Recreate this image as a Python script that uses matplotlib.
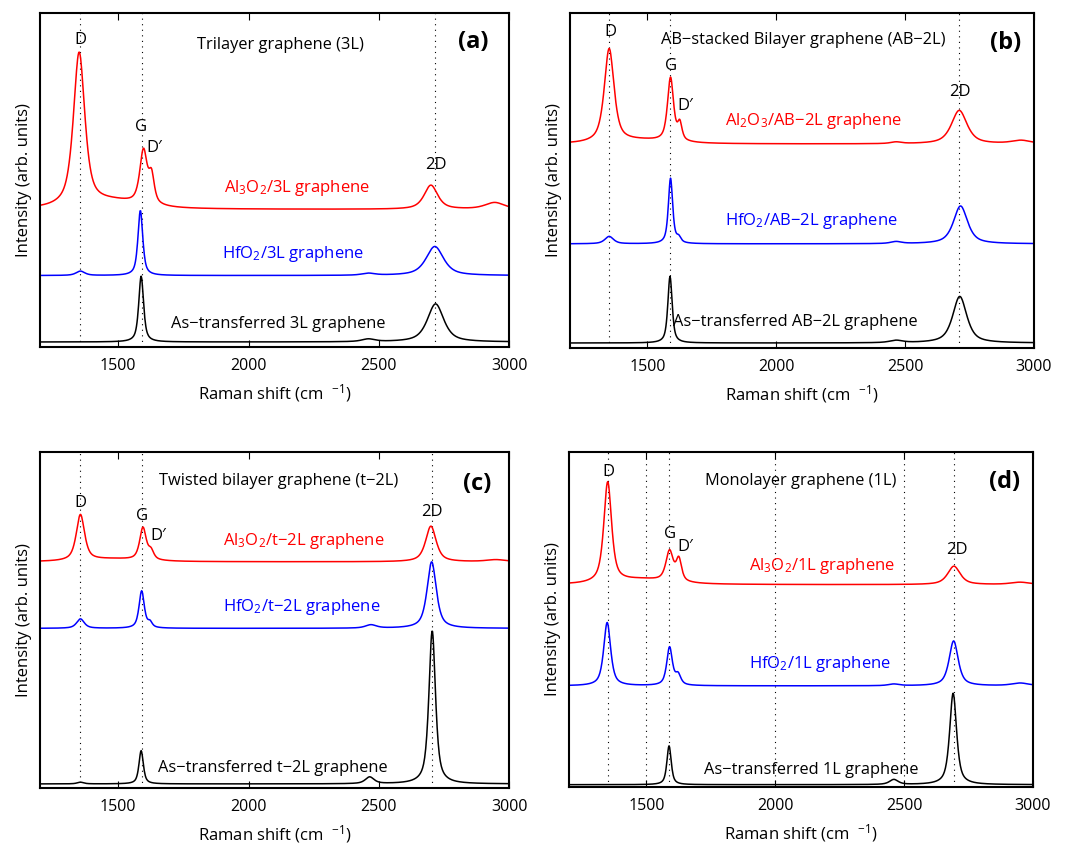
import numpy as np
import matplotlib
matplotlib.use("Agg")
import matplotlib.pyplot as plt

plt.rcParams['font.family'] = ['Open Sans', 'DejaVu Sans']
plt.rcParams['mathtext.fontset'] = 'custom'
plt.rcParams['mathtext.rm'] = 'Open Sans'
plt.rcParams['mathtext.default'] = 'regular'

# Raman shift axis (cm^-1)
shift = np.arange(1200, 3001, 2.0)

# peaks: (centre cm^-1, height above baseline, FWHM)
# intensities in % of panel height
a_black_base = 1.5
a_black_peaks = [(1588, 19.7, 22), (2460, 0.8, 60), (2718, 11.4, 75)]
a_blue_base = 21.4
a_blue_peaks = [(1355, 1.3, 40), (1585, 19.5, 22), (2460, 0.6, 60), (2715, 8.7, 80)]
a_red_base = 41.2
a_red_peaks = [(1350, 46.0, 52), (1480, 2.2, 250), (1597, 16.0, 34), (1628, 8.0, 25),
               (2700, 7.2, 62), (2945, 2.0, 90)]

b_black_base = 1.5
b_black_peaks = [(1588, 19.9, 20), (2465, 0.7, 60), (2712, 13.9, 65)]
b_blue_base = 31.1
b_blue_peaks = [(1352, 2.2, 40), (1590, 19.5, 20), (1622, 1.5, 20), (2465, 0.6, 50), (2715, 11.3, 65)]
b_red_base = 60.9
b_red_peaks = [(1352, 28.0, 45), (1480, 1.0, 250), (1590, 19.0, 28), (1626, 5.0, 20),
               (2465, 0.5, 50), (2710, 10.0, 72), (2950, 1.0, 90)]

c_black_base = 1.2
c_black_peaks = [(1355, 0.5, 30), (1588, 9.9, 20), (2465, 2.0, 40), (2705, 45.6, 30)]
c_blue_base = 47.5
c_blue_peaks = [(1355, 2.8, 35), (1590, 11.1, 24), (1622, 1.5, 20), (2470, 1.0, 50), (2703, 19.8, 42)]
c_red_base = 67.3
c_red_peaks = [(1355, 13.7, 38), (1480, 0.8, 250), (1595, 9.6, 30), (1626, 2.5, 25),
               (2700, 10.6, 48), (2950, 0.6, 90)]

d_black_base = 0.7
d_black_peaks = [(1588, 11.6, 20), (2460, 1.5, 40), (2690, 27.3, 32)]
d_blue_base = 30.2
d_blue_peaks = [(1348, 18.9, 32), (1590, 11.4, 26), (1623, 3.0, 25), (2460, 0.5, 50),
                (2692, 13.4, 42), (2950, 0.8, 80)]
d_red_base = 60.4
d_red_peaks = [(1350, 30.0, 36), (1480, 1.5, 250), (1590, 9.0, 34), (1626, 6.5, 25),
               (2693, 5.5, 58), (2950, 0.7, 90)]

panel_titles = ["Trilayer graphene (3L)", "AB\u2212stacked Bilayer graphene (AB\u22122L)",
                "Twisted bilayer graphene (t\u22122L)", "Monolayer graphene (1L)"]
panel_tags = ["(a)", "(b)", "(c)", "(d)"]
red_labels = ["Al$_3$O$_2$/3L graphene", "Al$_2$O$_3$/AB\u22122L graphene",
              "Al$_3$O$_2$/t\u22122L graphene", "Al$_3$O$_2$/1L graphene"]
blue_labels = ["HfO$_2$/3L graphene", "HfO$_2$/AB\u22122L graphene",
               "HfO$_2$/t\u22122L graphene", "HfO$_2$/1L graphene"]
black_labels = ["As\u2212transferred 3L graphene", "As\u2212transferred AB\u22122L graphene",
                "As\u2212transferred t\u22122L graphene", "As\u2212transferred 1L graphene"]

# dotted guide lines per panel
guides = [[1355, 1590, 2715], [1351, 1588, 2710], [1353, 1590, 2703],
          [1350, 1500, 1588, 2000, 2500, 2692]]

# peak annotations (label, x, y)
peak_names = ["D", "G", "D\u2032", "2D"]
peak_x = [[1355, 1588, 1637, 2720], [1356, 1592, 1647, 2712],
          [1355, 1590, 1653, 2705], [1354, 1591, 1650, 2705]]
peak_y = [[92.0, 66.0, 59.6, 54.4], [94.3, 84.1, 72.2, 76.5],
          [84.7, 81.0, 75.0, 82.0], [94.0, 75.5, 71.7, 70.7]]

# label positions (x, y) for title, tag, red, blue, black
title_pos = [(2121, 90.4), (2105, 92.1), (2115, 91.4), (2098, 91.5)]
tag_pos = [(2863, 91.4), (2888, 91.2), (2876, 90.6), (2890, 91.0)]
red_pos = [(2185, 47.7), (2144, 67.8), (2213, 73.6), (2182, 66.0)]
blue_pos = [(2172, 27.8), (2135, 38.0), (2204, 53.8), (2173, 36.6)]
black_pos = [(2115, 7.0), (2075, 7.9), (2092, 5.9), (2141, 5.2)]

spectra = [
    [(a_red_base, a_red_peaks), (a_blue_base, a_blue_peaks), (a_black_base, a_black_peaks)],
    [(b_red_base, b_red_peaks), (b_blue_base, b_blue_peaks), (b_black_base, b_black_peaks)],
    [(c_red_base, c_red_peaks), (c_blue_base, c_blue_peaks), (c_black_base, c_black_peaks)],
    [(d_red_base, d_red_peaks), (d_blue_base, d_blue_peaks), (d_black_base, d_black_peaks)],
]
colors = ["#ff0000", "#0000ff", "#000000"]


def spectrum(base, peaks, eta=0.7):
    y = np.full_like(shift, base)
    for x0, h, w in peaks:
        lor = 1.0 / (1.0 + ((shift - x0) / (w / 2.0)) ** 2)
        gau = np.exp(-4 * np.log(2) * ((shift - x0) / w) ** 2)
        y = y + h * (eta * lor + (1 - eta) * gau)
    return y


positions = [[0.0376, 0.5903, 0.4404, 0.3943], [0.5352, 0.5891, 0.4357, 0.3955],
             [0.0376, 0.0697, 0.4404, 0.3967], [0.5343, 0.0708, 0.4357, 0.3955]]

fig = plt.figure(figsize=(10.65, 8.47), dpi=100)
for i in range(4):
    ax = fig.add_axes(positions[i])
    for g in guides[i]:
        ax.axvline(g, color="k", ls=(0, (1, 4)), lw=0.8)
    for (base, peaks), c in zip(spectra[i], colors):
        ax.plot(shift, spectrum(base, peaks), color=c, lw=1.1)
    ax.set_xlim(1200, 3000)
    ax.set_ylim(0, 100)
    ax.set_xticks([1500, 2000, 2500, 3000])
    ax.set_yticks([])
    ax.tick_params(axis="x", direction="in", top=True, length=5, labelsize=11.5, pad=8)
    for s in ax.spines.values():
        s.set_linewidth(1.5)
    ax.set_xlabel("Raman shift (cm  $^{-1}$)", fontsize=12, labelpad=6)
    ax.set_ylabel("Intensity (arb. units)", fontsize=12, labelpad=6)

    for name, px, py in zip(peak_names, peak_x[i], peak_y[i]):
        ax.text(px, py, name, ha="center", va="center", fontsize=12)
    ax.text(*title_pos[i], panel_titles[i], ha="center", va="center", fontsize=11.8)
    ax.text(*tag_pos[i], panel_tags[i], ha="center", va="center", fontsize=17, fontweight="bold")
    ax.text(*red_pos[i], red_labels[i], ha="center", va="center", fontsize=12, color=colors[0])
    ax.text(*blue_pos[i], blue_labels[i], ha="center", va="center", fontsize=12, color=colors[1])
    ax.text(*black_pos[i], black_labels[i], ha="center", va="center", fontsize=11.8, color=colors[2])

fig.savefig("out.png", dpi=100)
